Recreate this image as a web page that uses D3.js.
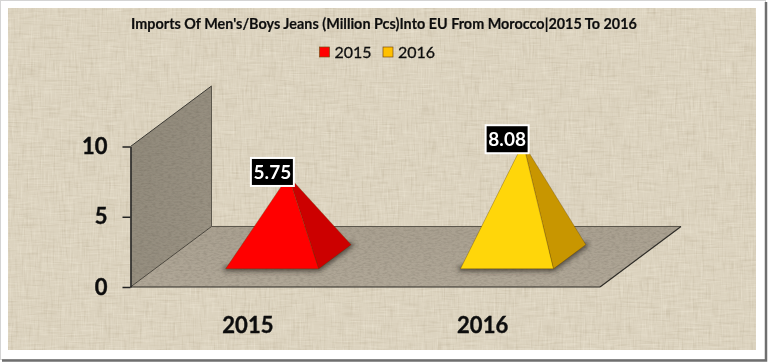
<!DOCTYPE html>
<html>
<head>
<meta charset="utf-8">
<script src="https://cdn.jsdelivr.net/npm/d3@7"></script>
<style>
  html, body { margin: 0; padding: 0; background: #fff; }
  svg { display: block; }
  text { font-family: Lato, "Open Sans", sans-serif; }
</style>
</head>
<body>
<div id="chart"></div>
<script>
// Chart data
const categories = ["2015", "2016"];
const values = [5.75, 8.08];
const yTicks = [0, 5, 10];
const titleText = "Imports Of Men's/Boys Jeans (Million Pcs)Into EU From Morocco|2015 To 2016";

const frontColors = ["#ff0000", "#ffd60a"];
const sideColors = ["#cc0000", "#c89600"];
const legendColors = ["#ff0000", "#ffc000"];

const width = 768, height = 362;
const svg = d3.select("#chart").append("svg")
    .attr("width", width)
    .attr("height", height);

// Scales, depth is what gives the fake 3D look
const x = d3.scaleBand().domain(categories).range([130.5, 600]);
const y = d3.scaleLinear().domain([0, 10]).range([287, 146.5]);
const depthX = 81, depthY = 60.5;
const project = (px, value, depth) => [px + depth * depthX, y(value) - depth * depthY];
const polygon = pts => "M" + pts.map(p => p.join(",")).join("L") + "Z";

// Filters
const defs = svg.append("defs");

// Linen: light and dark threads in both directions over a flat colour
const linen = defs.append("filter").attr("id", "linen")
    .attr("x", 0).attr("y", 0).attr("width", 1).attr("height", 1)
    .attr("color-interpolation-filters", "sRGB");
linen.append("feFlood").attr("flood-color", "#dcd3bf").attr("result", "base");
const threads = [
    ["0.05 0.7", 3, "h", "1 0.98 0.92", 0.55],
    ["0.7 0.05", 8, "v", "1 0.98 0.92", 0.55],
    ["0.05 0.45", 11, "hd", "0.6 0.54 0.42", 0.4],
    ["0.45 0.05", 14, "vd", "0.6 0.54 0.42", 0.4]
];
threads.forEach(([freq, seed, name, rgb, k]) => {
    const [r, g, b] = rgb.split(" ");
    linen.append("feTurbulence").attr("type", "fractalNoise")
        .attr("baseFrequency", freq).attr("numOctaves", 2).attr("seed", seed);
    linen.append("feColorMatrix").attr("type", "matrix")
        .attr("values", `0 0 0 0 ${r}  0 0 0 0 ${g}  0 0 0 0 ${b}  ${k} 0 0 0 ${-k * 0.5}`)
        .attr("result", name);
});
const linenMerge = linen.append("feMerge");
["base", "hd", "vd", "h", "v"].forEach(n => linenMerge.append("feMergeNode").attr("in", n));

// Brushed grain for the wall and the floor
const grain = defs.append("filter").attr("id", "grain")
    .attr("x", 0).attr("y", 0).attr("width", 1).attr("height", 1)
    .attr("color-interpolation-filters", "sRGB");
grain.append("feTurbulence").attr("type", "fractalNoise")
    .attr("baseFrequency", "0.25 0.6").attr("numOctaves", 2).attr("seed", 4);
grain.append("feColorMatrix").attr("type", "matrix")
    .attr("values", "0 0 0 0 0.2  0 0 0 0 0.18  0 0 0 0 0.14  0.3 0 0 0 -0.12");
grain.append("feComposite").attr("in2", "SourceAlpha").attr("operator", "in").attr("result", "noise");
const grainMerge = grain.append("feMerge");
grainMerge.append("feMergeNode").attr("in", "SourceGraphic");
grainMerge.append("feMergeNode").attr("in", "noise");

defs.append("filter").attr("id", "shadow")
    .attr("x", "-30%").attr("y", "-30%").attr("width", "160%").attr("height", "160%")
    .append("feGaussianBlur").attr("stdDeviation", 2.5);

defs.append("filter").attr("id", "soft")
    .attr("x", "-5%").attr("y", "-10%").attr("width", "110%").attr("height", "120%")
    .append("feGaussianBlur").attr("stdDeviation", 0.3);

const wallGrad = defs.append("linearGradient").attr("id", "wallGrad")
    .attr("x1", 0).attr("y1", 0).attr("x2", 1).attr("y2", 1);
wallGrad.append("stop").attr("offset", 0).attr("stop-color", "#8f8879");
wallGrad.append("stop").attr("offset", 1).attr("stop-color", "#9c9485");

const floorGrad = defs.append("linearGradient").attr("id", "floorGrad")
    .attr("x1", 0).attr("y1", 0).attr("x2", 0).attr("y2", 1);
floorGrad.append("stop").attr("offset", 0).attr("stop-color", "#a9a090");
floorGrad.append("stop").attr("offset", 1).attr("stop-color", "#b0a797");

// Frame and background
svg.append("rect").attr("x", 0.5).attr("y", 0.5)
    .attr("width", 765).attr("height", 359)
    .attr("fill", "#fff").attr("stroke", "#d4d4d4");
svg.append("path").attr("d", "M766,2V360.5H2")
    .attr("fill", "none").attr("stroke", "#6f6f6f").attr("stroke-width", 2.5);
svg.append("rect").attr("x", 8).attr("y", 8)
    .attr("width", 748).attr("height", 341.5)
    .attr("fill", "#d9cfba").attr("filter", "url(#linen)");

// Title
svg.append("text").attr("x", 384).attr("y", 29)
    .attr("text-anchor", "middle")
    .attr("font-size", 14.4).attr("font-weight", 700).attr("fill", "#111")
    .attr("stroke", "#111").attr("stroke-width", 0.2)
    .text(titleText);

// Legend
const legendX = [319.5, 383];
const legend = svg.append("g").selectAll("g").data(categories).join("g")
    .attr("transform", (d, i) => `translate(${legendX[i]},47)`);
legend.append("rect")
    .attr("width", 10).attr("height", 10)
    .attr("fill", (d, i) => legendColors[i])
    .attr("stroke", "#7a4a10").attr("stroke-width", 0.7);
legend.append("text")
    .attr("x", 15).attr("y", 10.5)
    .attr("font-size", 16).attr("fill", "#111")
    .attr("stroke", "#111").attr("stroke-width", 0.3)
    .text(d => d);

// Side wall and floor
const [x0, x1] = x.range();
svg.append("path")
    .attr("d", polygon([project(x0, 0, 0), project(x0, 10, 0), project(x0, 10, 1), project(x0, 0, 1)]))
    .attr("fill", "url(#wallGrad)").attr("filter", "url(#grain)");
svg.append("path")
    .attr("d", polygon([project(x0, 0, 0), project(x1, 0, 0), project(x1, 0, 1), project(x0, 0, 1)]))
    .attr("fill", "url(#floorGrad)").attr("filter", "url(#grain)");

// Wall and floor edges
const edges = [
    [project(x0, 10, 0), project(x0, 10, 1), "#3c3a34", 1],
    [project(x0, 10, 1), project(x0, 0, 1), "#5c574c", 1],
    [project(x0, 0, 0), project(x0, 0, 1), "#4a463d", 1],
    [project(x0, 0, 1), project(x1, 0, 1), "#5c574c", 1],
    [project(x1, 0, 1), project(x1, 0, 0), "#2e2c27", 1.2],
    [project(x1, 0, 0), project(x0, 0, 0), "#2e2c27", 1.2]
];
svg.append("g").selectAll("line").data(edges).join("line")
    .attr("x1", d => d[0][0]).attr("y1", d => d[0][1])
    .attr("x2", d => d[1][0]).attr("y2", d => d[1][1])
    .attr("stroke", d => d[2]).attr("stroke-width", d => d[3]);

// Pyramids
const halfW = 46.5, nearD = 0.3, farD = 0.7;
const rows = categories.map((c, i) => {
    const cx = x(c) + x.bandwidth() / 2;
    return {
        i,
        value: values[i],
        fl: project(cx - halfW, 0, nearD),
        fr: project(cx + halfW, 0, nearD),
        br: project(cx + halfW, 0, farD),
        apex: project(cx, values[i], 0.5)
    };
});

const pyramids = svg.append("g").selectAll("g").data(rows).join("g");
pyramids.append("path")
    .attr("d", d => polygon([d.fl, d.fr, d.br]))
    .attr("fill", "#2b2820").attr("stroke", "#2b2820").attr("stroke-width", 5)
    .attr("stroke-linejoin", "round").attr("opacity", 0.7)
    .attr("filter", "url(#shadow)");
pyramids.append("path")
    .attr("d", d => polygon([d.fr, d.br, d.apex]))
    .attr("fill", d => sideColors[d.i])
    .attr("stroke", "#5a3a00").attr("stroke-opacity", 0.45).attr("stroke-width", 0.7);
pyramids.append("path")
    .attr("d", d => polygon([d.fl, d.fr, d.apex]))
    .attr("fill", d => frontColors[d.i])
    .attr("stroke", "#5a3a00").attr("stroke-opacity", 0.45).attr("stroke-width", 0.7);

// Value labels
const labelW = 43, labelH = 28;
const labels = pyramids.append("g")
    .attr("transform", d => `translate(${d.apex[0] - 16},${d.apex[1] - 4})`);
labels.append("rect")
    .attr("x", -labelW / 2).attr("y", -labelH / 2)
    .attr("width", labelW).attr("height", labelH)
    .attr("fill", "#000").attr("stroke", "#fff").attr("stroke-width", 2);
labels.append("text")
    .attr("text-anchor", "middle").attr("y", 7)
    .attr("font-size", 19).attr("font-weight", 700).attr("fill", "#fff")
    .text(d => d3.format(".2f")(d.value));

// Axes
const yAxis = svg.append("g")
    .attr("transform", `translate(${x0},0)`)
    .call(d3.axisLeft(y).tickValues(yTicks).tickSize(8).tickSizeOuter(0).tickPadding(15));
yAxis.select(".domain").attr("stroke", "#222").attr("stroke-width", 1.5);
yAxis.selectAll(".tick line").attr("stroke", "#222").attr("stroke-width", 1.5);
yAxis.selectAll(".tick text")
    .attr("font-size", 22).attr("font-weight", 700).attr("fill", "#111")
    .attr("stroke", "#111").attr("stroke-width", 0.4)
    .style("font-family", "Lato, sans-serif");

const xAxis = svg.append("g")
    .attr("transform", `translate(0,${y(0)})`)
    .call(d3.axisBottom(x).tickSize(0).tickPadding(30));
xAxis.select(".domain").remove();
xAxis.selectAll(".tick text")
    .attr("font-size", 22).attr("font-weight", 700).attr("fill", "#111")
    .attr("stroke", "#111").attr("stroke-width", 0.4)
    .style("font-family", "Lato, sans-serif");

// The source is a slightly soft screenshot
svg.selectAll("text").attr("filter", "url(#soft)");
</script>
</body>
</html>
